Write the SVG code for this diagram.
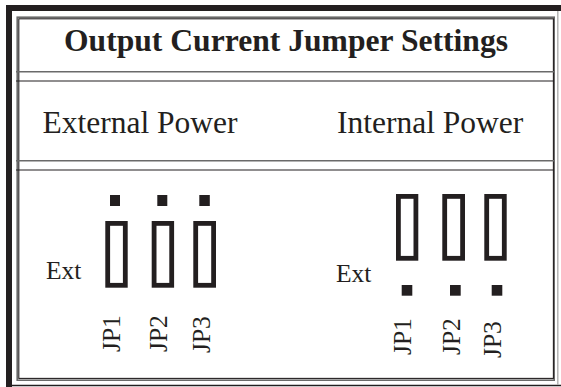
<svg xmlns="http://www.w3.org/2000/svg" width="561" height="387" viewBox="0 0 561 387">
<style>
.t{font-family:"Liberation Serif","Times New Roman",serif;fill:#231f20}
.jp{font-size:25.5px}
.jr{fill:none;stroke:#231f20;stroke-width:4.8}
.sq{fill:#231f20}
.gl{stroke:#6a6a6a;stroke-width:1.6;fill:none}
.dl{stroke:#231f20;stroke-width:1.1;fill:none}
</style>
<rect width="561" height="387" fill="#fff"/>
<g id="frame">
<rect x="6" y="5" width="6" height="382" fill="#231f20"/>
<rect x="6" y="5" width="555" height="6" fill="#231f20"/>
<line x1="12" y1="385.5" x2="561" y2="385.5" stroke="#231f20" stroke-width="1.4"/>
<line x1="557.8" y1="11" x2="557.8" y2="385" stroke="#b0b0b0" stroke-width="1.4"/>
<rect x="17.2" y="17.2" width="537" height="363" class="gl"/>
<rect x="18.8" y="18.8" width="534.6" height="359.6" class="dl"/>
<line x1="16" y1="71.8" x2="554" y2="71.8" class="gl"/>
<line x1="16" y1="81" x2="554" y2="81" class="dl"/>
<line x1="16" y1="160.8" x2="554" y2="160.8" class="gl"/>
<line x1="16" y1="170" x2="554" y2="170" class="dl"/>
</g>
<g id="title">
<text class="t" x="64" y="51" font-size="31" font-weight="bold" textLength="444" lengthAdjust="spacingAndGlyphs">Output Current Jumper Settings</text>
</g>
<g id="external-header">
<text class="t" x="42.5" y="133.3" font-size="31.5">External Power</text>
</g>
<g id="internal-header">
<text class="t" x="337" y="133.3" font-size="31.5">Internal Power</text>
</g>
<g id="external-jumpers">
<text class="t" x="46" y="279" font-size="25.5">Ext</text>
<rect class="sq" x="110" y="195" width="10" height="11"/>
<rect class="sq" x="157.3" y="195" width="10" height="11"/>
<rect class="sq" x="199.3" y="195" width="10.5" height="11"/>
<rect class="jr" x="107.7" y="223.4" width="17.6" height="61.9"/>
<rect class="jr" x="154.1" y="223.4" width="17.6" height="61.9"/>
<rect class="jr" x="195.7" y="223.4" width="17.9" height="61.9"/>
<text class="t jp" transform="translate(119.5,352) rotate(-90)">JP1</text>
<text class="t jp" transform="translate(167,352) rotate(-90)">JP2</text>
<text class="t jp" transform="translate(209.5,353) rotate(-90)">JP3</text>
</g>
<g id="internal-jumpers">
<text class="t" x="336" y="282.3" font-size="25.5">Ext</text>
<rect class="jr" x="398.4" y="196.4" width="17.5" height="61.9"/>
<rect class="jr" x="444.7" y="196.4" width="17.9" height="61.9"/>
<rect class="jr" x="486.7" y="196.4" width="17.6" height="61.9"/>
<rect class="sq" x="401.7" y="285" width="10.6" height="10.7"/>
<rect class="sq" x="450" y="285" width="10.7" height="10.7"/>
<rect class="sq" x="491.7" y="285" width="10.6" height="10.7"/>
<text class="t jp" transform="translate(411,355) rotate(-90)">JP1</text>
<text class="t jp" transform="translate(459.5,355) rotate(-90)">JP2</text>
<text class="t jp" transform="translate(501,358) rotate(-90)">JP3</text>
</g>
</svg>
